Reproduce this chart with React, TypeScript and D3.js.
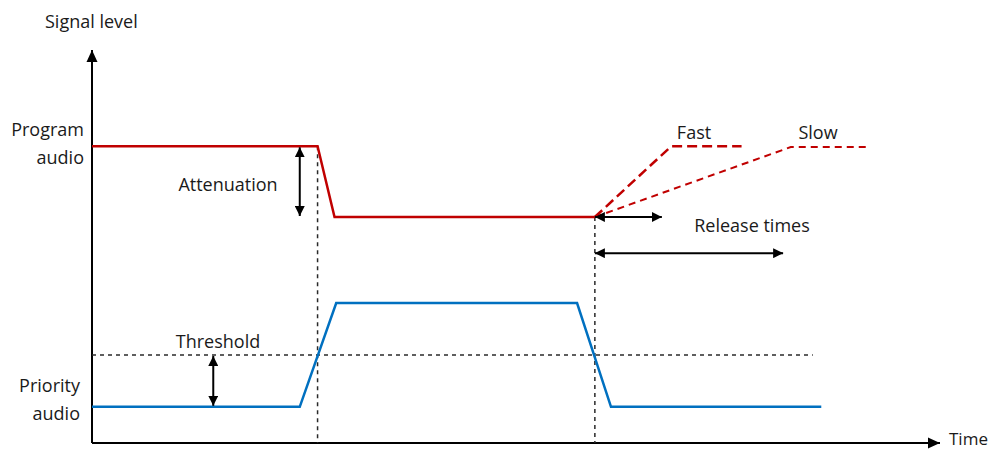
import React from "react";
import * as d3 from "d3";

// time (0-100) vs signal level (0-100)
const programTimes = [0, 26.6, 28.6, 59.3];
const programLevels = [75.5, 75.5, 57.5, 57.5];
const fastTimes = [59.3, 68.3, 76.6];
const fastLevels = [57.5, 75.5, 75.5];
const slowTimes = [59.3, 82.4, 91.3];
const slowLevels = [57.5, 75.3, 75.3];
const priorityTimes = [0, 24.5, 28.8, 57.2, 61.2, 86.0];
const priorityLevels = [9.2, 9.2, 35.6, 35.6, 9.2, 9.2];
const thresholdLevel = 22.4;
const thresholdEnd = 85.0;
const onsetTime = 26.6;
const releaseTime = 59.3;
const attenuationArrowTime = 24.5;
const thresholdArrowTime = 14.3;
const fastReleaseEnd = 67.2;
const slowReleaseEnd = 81.5;
const releaseArrowLevel = 48.3;

const W = 993;
const H = 450;
const FONT = "Open Sans, sans-serif";

export default function App() {
  const x = d3.scaleLinear().domain([0, 100]).range([92, 940]);
  const y = d3.scaleLinear().domain([0, 100]).range([443, 50]);
  const line = (ts: number[], vs: number[]) =>
    d3.line<number>().x((_, i) => x(ts[i])).y((_, i) => y(vs[i]))(ts.map((t) => t)) || "";

  const red = "#C00000";
  const blue = "#0070C0";
  const dashGray = "#2a2a2a";

  return (
    <svg width={W} height={H} style={{ position: "absolute", left: 0, top: 0, background: "#fff" }} fontFamily={FONT}>
      <defs>
        <marker id="ah" viewBox="0 0 10 10" refX="10" refY="5" markerWidth="10" markerHeight="10" markerUnits="userSpaceOnUse" orient="auto-start-reverse">
          <path d="M0,0 L10,5 L0,10 Z" fill="#000" />
        </marker>
        <marker id="axh" viewBox="0 0 12 12" refX="12" refY="6" markerWidth="12" markerHeight="12" markerUnits="userSpaceOnUse" orient="auto">
          <path d="M0,0.5 L12,6 L0,11.5 Z" fill="#000" />
        </marker>
      </defs>

      {/* axes */}
      <line x1={x(0)} y1={y(0)} x2={x(0)} y2={y(100)} stroke="#000" strokeWidth={2} markerEnd="url(#axh)" />
      <line x1={x(0)} y1={y(0)} x2={x(100)} y2={y(0)} stroke="#000" strokeWidth={2} markerEnd="url(#axh)" />

      {/* dashed guides */}
      <line x1={x(onsetTime)} y1={y(programLevels[0])} x2={x(onsetTime)} y2={y(0)} stroke={dashGray} strokeWidth={1.5} strokeDasharray="4,4" />
      <line x1={x(releaseTime)} y1={y(programLevels[3])} x2={x(releaseTime)} y2={y(0)} stroke={dashGray} strokeWidth={1.5} strokeDasharray="4,4" />
      <line x1={x(0)} y1={y(thresholdLevel)} x2={x(thresholdEnd)} y2={y(thresholdLevel)} stroke={dashGray} strokeWidth={1.5} strokeDasharray="4,4" />

      {/* signals */}
      <path d={line(programTimes, programLevels)} fill="none" stroke={red} strokeWidth={2.5} />
      <path d={line(fastTimes, fastLevels)} fill="none" stroke={red} strokeWidth={2.5} strokeDasharray="10,5" />
      <path d={line(slowTimes, slowLevels)} fill="none" stroke={red} strokeWidth={2} strokeDasharray="7,5" />
      <path d={line(priorityTimes, priorityLevels)} fill="none" stroke={blue} strokeWidth={2.5} />

      {/* double arrows */}
      <line x1={x(attenuationArrowTime)} y1={y(programLevels[0]) + 1} x2={x(attenuationArrowTime)} y2={y(programLevels[3]) - 1} stroke="#000" strokeWidth={2} markerStart="url(#ah)" markerEnd="url(#ah)" />
      <line x1={x(thresholdArrowTime)} y1={y(thresholdLevel) + 1} x2={x(thresholdArrowTime)} y2={y(priorityLevels[0]) - 1} stroke="#000" strokeWidth={2} markerStart="url(#ah)" markerEnd="url(#ah)" />
      <line x1={x(releaseTime)} y1={y(programLevels[3])} x2={x(fastReleaseEnd)} y2={y(programLevels[3])} stroke="#000" strokeWidth={2} markerStart="url(#ah)" markerEnd="url(#ah)" />
      <line x1={x(releaseTime)} y1={y(releaseArrowLevel)} x2={x(slowReleaseEnd)} y2={y(releaseArrowLevel)} stroke="#000" strokeWidth={2} markerStart="url(#ah)" markerEnd="url(#ah)" />

      {/* labels */}
      <g fontSize={18} fill="#1a1a1a">
        <text x={45} y={28}>Signal level</text>
        <text x={84} y={136} textAnchor="end">Program</text>
        <text x={84} y={164} textAnchor="end">audio</text>
        <text x={80} y={392} textAnchor="end">Priority</text>
        <text x={80} y={420} textAnchor="end">audio</text>
        <text x={228} y={191} textAnchor="middle">Attenuation</text>
        <text x={218} y={348} textAnchor="middle">Threshold</text>
        <text x={694} y={139} textAnchor="middle">Fast</text>
        <text x={818} y={139} textAnchor="middle">Slow</text>
        <text x={752} y={232} textAnchor="middle">Release times</text>
        <text x={949} y={445} fontSize={17}>Time</text>
      </g>
    </svg>
  );
}
